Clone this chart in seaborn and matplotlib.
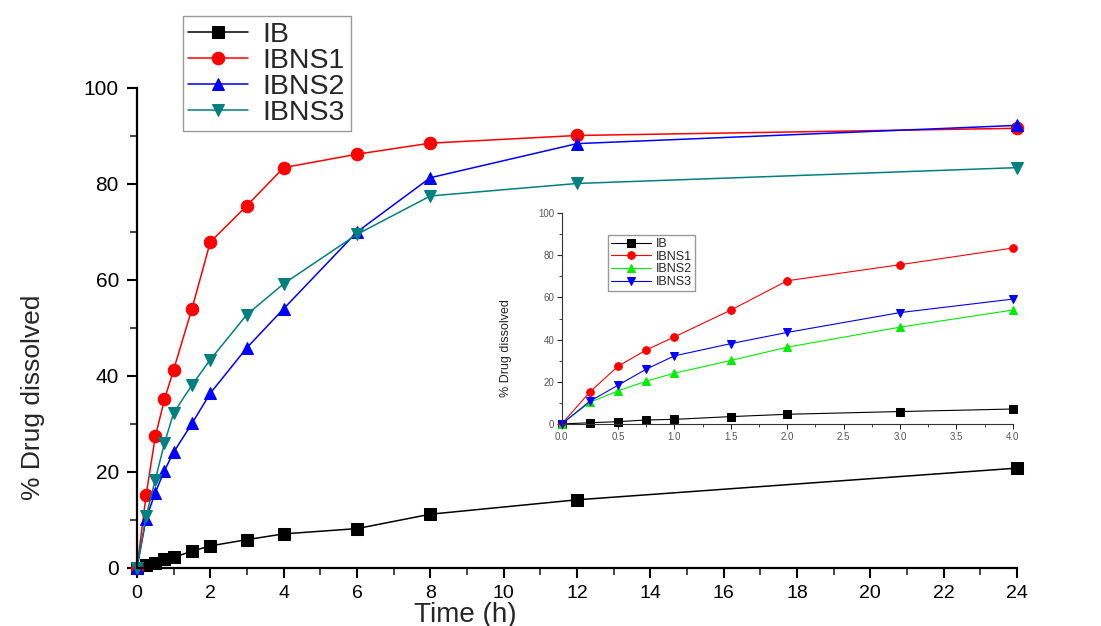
import seaborn as sns
import matplotlib.pyplot as plt
from matplotlib.ticker import MultipleLocator

# dissolution data
time_h = [0, 0.25, 0.5, 0.75, 1, 1.5, 2, 3, 4, 6, 8, 12, 24]
ib = [0, 0.6, 1.1, 1.9, 2.2, 3.5, 4.6, 5.9, 7.1, 8.2, 11.2, 14.2, 20.8]
ibns1 = [0, 15.2, 27.4, 35.1, 41.3, 54.0, 67.9, 75.5, 83.4, 86.2, 88.5, 90.1, 91.6]
ibns2 = [0, 10.3, 15.7, 20.3, 24.1, 30.1, 36.4, 45.9, 54.0, 70.0, 81.3, 88.4, 92.2]
ibns3 = [0, 10.8, 18.4, 26.0, 32.3, 38.1, 43.4, 52.8, 59.2, 69.5, 77.5, 80.1, 83.4]
series_names = ["IB", "IBNS1", "IBNS2", "IBNS3"]
n_inset = 9  # points up to 4 h

sns.set_theme(style="white")
plt.rcParams["font.family"] = ["Liberation Sans", "DejaVu Sans"]

fig = plt.figure(figsize=(11.01, 6.26), dpi=100)
ax = fig.add_axes([0.1244, 0.0927, 0.7993, 0.7668])

main_style = [
    ("black", "s"),
    ("#ff0000", "o"),
    ("#0000ff", "^"),
    ("#008080", "v"),
]
for name, vals, (col, mk) in zip(series_names, [ib, ibns1, ibns2, ibns3], main_style):
    sns.lineplot(x=time_h, y=vals, ax=ax, color=col, marker=mk, markersize=9,
                 markeredgecolor=col, linewidth=1.1, label=name, clip_on=False)

ax.set_xlim(0, 24)
ax.set_ylim(0, 100)
ax.xaxis.set_major_locator(MultipleLocator(2))
ax.xaxis.set_minor_locator(MultipleLocator(1))
ax.yaxis.set_major_locator(MultipleLocator(20))
ax.yaxis.set_minor_locator(MultipleLocator(10))
ax.tick_params(which="major", direction="out", length=7, width=1.5, labelsize=14,
               pad=5, bottom=True, left=True, colors="black")
ax.tick_params(axis="y", which="major", labelsize=15, pad=6)
ax.tick_params(which="minor", direction="out", length=5, width=1.2, bottom=True, left=True)
for s in ["top", "right"]:
    ax.spines[s].set_visible(False)
for s in ["left", "bottom"]:
    ax.spines[s].set_color("black")
    ax.spines[s].set_linewidth(1.6)

ax.set_xlabel("Time (h)", fontsize=20)
ax.set_ylabel("% Drug dissolved", fontsize=19)
ax.xaxis.set_label_coords(0.373, -0.07)
ax.yaxis.set_label_coords(-0.105, 0.356)

ax.legend(loc="upper left", bbox_to_anchor=(0.052, 1.15), borderaxespad=0,
          fontsize=20.5, handlelength=2.1, frameon=True, fancybox=False,
          edgecolor="gray", labelspacing=0.0, borderpad=0.2, handletextpad=0.5)

# inset: first 4 hours
ins = fig.add_axes([0.5102, 0.3227, 0.4096, 0.337])
ins.patch.set_alpha(0)
inset_style = [
    ("black", "s"),
    ("#ff0000", "o"),
    ("#00ee00", "^"),
    ("#0000ff", "v"),
]
for name, vals, (col, mk) in zip(series_names, [ib, ibns1, ibns2, ibns3], inset_style):
    sns.lineplot(x=time_h[:n_inset], y=vals[:n_inset], ax=ins, color=col, marker=mk,
                 markersize=5.5, markeredgecolor=col, linewidth=0.8, label=name,
                 clip_on=False)

ins.set_xlim(0, 4)
ins.set_ylim(0, 100)
ins.xaxis.set_major_locator(MultipleLocator(0.5))
ins.xaxis.set_minor_locator(MultipleLocator(0.25))
ins.yaxis.set_major_locator(MultipleLocator(20))
ins.yaxis.set_minor_locator(MultipleLocator(10))
ins.xaxis.set_major_formatter(lambda v, p: f"{v:.1f}")
ins.tick_params(which="major", direction="out", length=3.5, width=0.8, labelsize=7,
                pad=2, bottom=True, left=True, labelcolor="#555555")
ins.tick_params(which="minor", direction="out", length=2, width=0.6, bottom=True, left=True)
for s in ["top", "right"]:
    ins.spines[s].set_visible(False)
for s in ["left", "bottom"]:
    ins.spines[s].set_color("#333333")
    ins.spines[s].set_linewidth(0.8)
ins.set_xlabel("")
ins.set_ylabel("% Drug dissolved", fontsize=9)
ins.yaxis.set_label_coords(-0.11, 0.36)
ins.legend(loc="upper left", bbox_to_anchor=(0.102, 0.896), borderaxespad=0,
           fontsize=9, handlelength=3.2, frameon=True, fancybox=False,
           edgecolor="gray", labelspacing=0.05, borderpad=0.25, handletextpad=0.4)

plt.savefig("out.png", dpi=100)
